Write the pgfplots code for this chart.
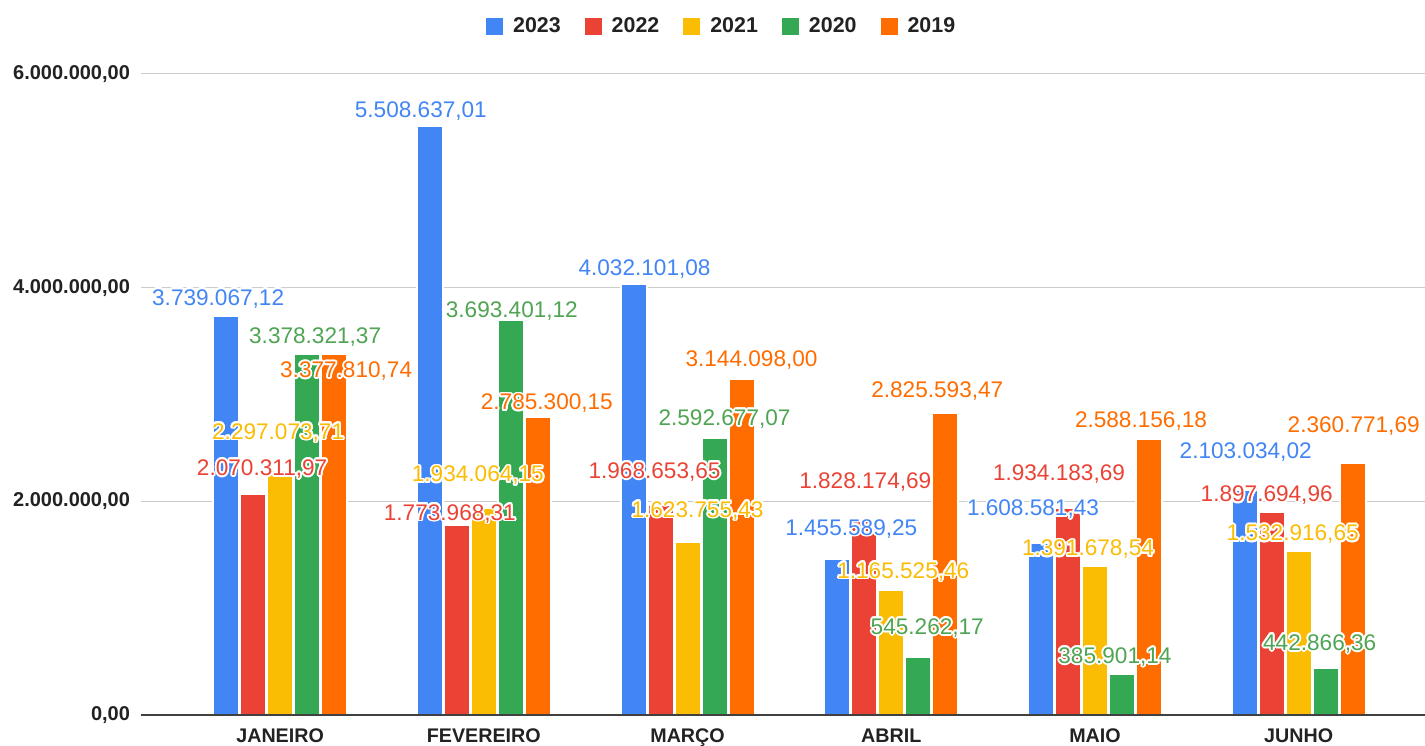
\documentclass[border=0pt]{standalone}
\usepackage{fontspec}
\setmainfont{Liberation Sans}
\usepackage{pgfplots}
\pgfplotsset{compat=1.18}
\usepackage{pgfplotstable}
\usepackage{contour}
\contourlength{0.9pt}
\definecolor{cA}{HTML}{4285F4}
\definecolor{cB}{HTML}{EA4335}
\definecolor{cC}{HTML}{FBBC04}
\definecolor{cD}{HTML}{34A853}
\definecolor{cE}{HTML}{FF6D01}
\definecolor{lD}{HTML}{4FA553}
\definecolor{tk}{HTML}{222222}
\newcommand{\lbl}{\fontsize{11.3}{13}\selectfont}

% 2023
\pgfplotstableread{
x y lab dx dy
0 3739067.12 3.739.067,12 -8 16
1 5508637.01 5.508.637,01 -9 15
2 4032101.08 4.032.101,08 11 14
3 1455589.25 1.455.589,25 14 30
4 1608581.43 1.608.581,43 -8 33
5 2103034.02 2.103.034,02 1 37
}\tA
% 2022
\pgfplotstableread{
x y lab dx dy
0 2070311.97 2.070.311,97 9 24
1 1773968.31 1.773.968,31 -7 11
2 1968653.65 1.968.653,65 -6 32
3 1828174.69 1.828.174,69 1 37
4 1934183.69 1.934.183,69 -9 33
5 1897694.96 1.897.694,96 -5 16
}\tB
% 2021
\pgfplotstableread{
x y lab dx dy
0 2297073.71 2.297.073,71 -2 36
1 1934064.15 1.934.064,15 -6 32
2 1623755.43 1.623.755,43 10 30
3 1165525.46 1.165.525,46 12 18
4 1391678.54 1.391.678,54 -7 16
5 1532916.65 1.532.916,65 -6 16
}\tC
% 2020
\pgfplotstableread{
x y lab dx dy
0 3378321.37 3.378.321,37 8 16
1 3693401.12 3.693.401,12 1 8
2 2592677.07 2.592.677,07 10 18
3 545262.17 545.262,17 9 28
4 385901.14 385.901,14 -7 16
5 442866.36 442.866,36 -6 23
}\tD
% 2019
\pgfplotstableread{
x y lab dx dy
0 3377810.74 3.377.810,74 12 -18
1 2785300.15 2.785.300,15 9 13
2 3144098.00 3.144.098,00 10 18
3 2825593.47 2.825.593,47 -8 21
4 2588156.18 2.588.156,18 -8 17
5 2360771.69 2.360.771,69 1 36
}\tE

\pgfplotsset{
  barA/.style={ybar, bar width=13pt, draw=white, line width=1pt},
  lab/.style 2 args={ybar, bar width=13pt, bar shift=0pt, draw=none, fill=none, forget plot,
    point meta=explicit symbolic,
    visualization depends on={\thisrow{dx}\as\dx},
    visualization depends on={\thisrow{dy}\as\dy},
    nodes near coords={\contour{white}{\pgfplotspointmeta}},
    every node near coord/.append style={anchor=center, font=\lbl, text=#1,
      xshift=\dx*0.5pt+#2, yshift=\dy*0.5pt}},
}

\begin{document}
\begin{tikzpicture}
\useasboundingbox (-70.5pt,-15pt) rectangle (642pt,357.5pt);
\begin{axis}[
  at={(0pt,0pt)}, anchor=south west,
  width=642pt, height=320.5pt, scale only axis,
  xmin=-0.683, xmax=5.62, ymin=0, ymax=6000000,
  scaled y ticks=false,
  axis line style={draw=none},
  major tick length=0pt,
  xtick={0,1,2,3,4,5},
  xticklabels={JANEIRO,FEVEREIRO,MARÇO,ABRIL,MAIO,JUNHO},
  xticklabel style={font=\fontsize{9.85}{11}\selectfont\bfseries, text=tk, yshift=-3.3pt},
  ytick={0,2000000,4000000,6000000},
  yticklabels={\textbf{0,00},\textbf{2.000.000,00},\textbf{4.000.000,00},\textbf{6.000.000,00}},
  yticklabel style={font=\fontsize{10}{11}\selectfont\bfseries, text=tk, xshift=-2pt},
  ymajorgrids,
  grid style={draw=black!20, line width=0.5pt},
  legend style={at={(0.453,1.074)}, anchor=center, draw=none, fill=none,
    legend columns=5, font=\fontsize{10.7}{12}\selectfont\bfseries, text=tk,
    /tikz/every even column/.append style={column sep=10pt}},
  legend image code/.code={\fill[#1,draw=none] (0pt,-4.25pt) rectangle (8.5pt,4.25pt); \path (11pt,0pt);},
]
\addplot[barA, fill=cA, bar shift=-27pt] table[x=x,y=y]{\tA};
\addlegendentry{2023}
\addplot[barA, fill=cB, bar shift=-13.5pt] table[x=x,y=y]{\tB};
\addlegendentry{2022}
\addplot[barA, fill=cC, bar shift=0pt] table[x=x,y=y]{\tC};
\addlegendentry{2021}
\addplot[barA, fill=cD, bar shift=13.5pt] table[x=x,y=y]{\tD};
\addlegendentry{2020}
\addplot[barA, fill=cE, bar shift=27pt] table[x=x,y=y]{\tE};
\addlegendentry{2019}

\draw[black!75, line width=0.9pt] (rel axis cs:0,0) -- (rel axis cs:1,0);

\addplot[lab={cA}{-27pt}] table[x=x,y=y,meta=lab]{\tA};
\addplot[lab={cB}{-13.5pt}] table[x=x,y=y,meta=lab]{\tB};
\addplot[lab={cC}{0pt}] table[x=x,y=y,meta=lab]{\tC};
\addplot[lab={lD}{13.5pt}] table[x=x,y=y,meta=lab]{\tD};
\addplot[lab={cE}{27pt}] table[x=x,y=y,meta=lab]{\tE};
\end{axis}
\end{tikzpicture}
\end{document}
